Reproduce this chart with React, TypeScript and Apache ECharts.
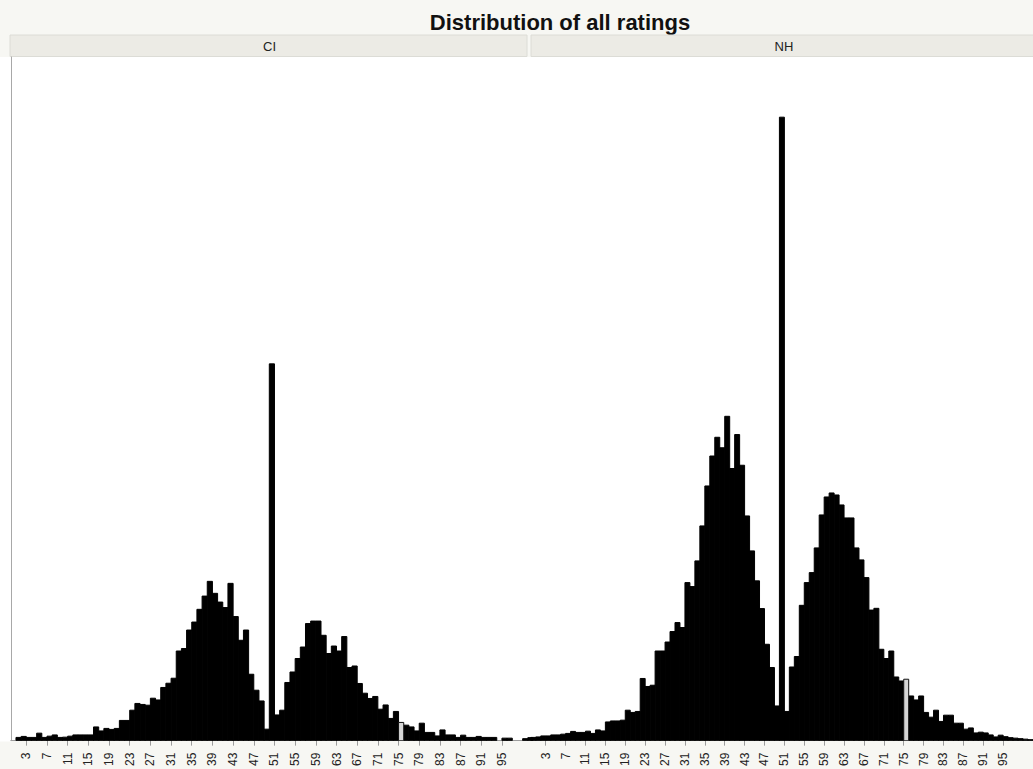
import React, { useEffect, useRef } from "react";
import * as echarts from "echarts";

const TITLE = "Distribution of all ratings";
const PANELS = ["CI", "NH"];
const TICK_LABELS = [3, 7, 11, 15, 19, 23, 27, 31, 35, 39, 43, 47, 51, 55, 59, 63, 67, 71, 75, 79, 83, 87, 91, 95];
const HIGHLIGHT_RATING = 75;

// counts per rating bin [r, r+1), index = rating 0..100
const CI_COUNTS = [
  0, 13, 17, 13, 13, 30, 13, 18, 23, 13,
  14, 18, 23, 23, 23, 23, 55, 39, 49, 45,
  49, 81, 81, 122, 149, 145, 142, 170, 163, 213,
  230, 250, 359, 369, 443, 475, 526, 579, 638, 590,
  555, 533, 630, 497, 402, 443, 266, 202, 159, 46,
  1509, 103, 122, 233, 275, 329, 375, 469, 479, 479,
  422, 349, 379, 359, 417, 293, 299, 229, 190, 169,
  177, 126, 143, 89, 117, 73, 62, 55, 39, 70,
  33, 33, 19, 43, 23, 23, 13, 22, 13, 13,
  17, 13, 13, 13, 0, 10, 10, 0, 0, 8,
  12,
];

const NH_COUNTS = [
  13, 15, 19, 19, 23, 23, 26, 29, 37, 33,
  33, 38, 29, 43, 39, 75, 79, 79, 82, 122,
  113, 117, 249, 217, 222, 359, 359, 395, 437, 473,
  453, 633, 617, 720, 860, 1020, 1140, 1215, 1173, 1299,
  1090, 1226, 1103, 900, 760, 640, 529, 386, 293, 139,
  2497, 117, 295, 337, 542, 633, 673, 772, 904, 976,
  992, 984, 944, 892, 892, 772, 724, 653, 523, 530,
  366, 329, 359, 255, 239, 246, 179, 163, 179, 113,
  94, 122, 77, 102, 102, 70, 70, 46, 51, 31,
  34, 31, 23, 15, 22, 16, 12, 10, 8, 6,
  4,
];

const PANEL_COUNTS = [CI_COUNTS, NH_COUNTS];

export default function App() {
  const ref = useRef<HTMLDivElement>(null);

  useEffect(() => {
    document.body.style.margin = "0";
    if (!ref.current) return;
    const chart = echarts.init(ref.current, null, { renderer: "svg" });

    const unit = 5.17;
    const gridLefts = [10.8, 530.8];
    const xMax = 101;
    const yMax = 2738;

    const grids = gridLefts.map((left) => ({
      left,
      top: 57,
      width: unit * xMax,
      height: 684.5,
      show: true,
      backgroundColor: "#ffffff",
      borderWidth: 0,
      containLabel: false,
    }));

    const xAxes = PANELS.map((_, i) => ({
      type: "value",
      gridIndex: i,
      min: 0,
      max: xMax,
      axisLine: { show: true, lineStyle: { color: "#9c9c9c", width: 1 } },
      axisTick: { show: true, length: 5, customValues: TICK_LABELS, lineStyle: { color: "#9c9c9c" } },
      axisLabel: {
        customValues: TICK_LABELS,
        rotate: 90,
        fontSize: 12,
        fontFamily: "Liberation Sans",
        color: "#222",
        margin: 12,
      },
      splitLine: { show: false },
    }));

    const yAxes = PANELS.map((_, i) => ({
      type: "value",
      gridIndex: i,
      min: 0,
      max: yMax,
      axisLine: { show: i === 0, lineStyle: { color: "#a8a8a8" } },
      axisTick: { show: false },
      axisLabel: { show: false },
      splitLine: { show: false },
    }));

    const series = PANEL_COUNTS.map((counts, i) => ({
      type: "custom",
      xAxisIndex: i,
      yAxisIndex: i,
      clip: true,
      data: counts.map((c, r) => [r, c]),
      renderItem: (params: any, api: any) => {
        const r = api.value(0);
        const c = api.value(1);
        if (!c) return null;
        const p0 = api.coord([r, c]);
        const p1 = api.coord([r + 1, 0]);
        const hl = r === HIGHLIGHT_RATING;
        return {
          type: "rect",
          z2: hl ? 10 : 1,
          shape: { x: p0[0], y: p0[1], width: p1[0] - p0[0], height: p1[1] - p0[1] },
          style: hl
            ? { fill: "#d6d6d6", stroke: "#111", lineWidth: 1 }
            : { fill: "#000", stroke: "#000", lineWidth: 1 },
        };
      },
    }));

    const stripW = [517, 510];
    const stripX = [10, 531];

    chart.setOption({
      animation: false,
      backgroundColor: "#f7f7f3",
      grid: grids,
      xAxis: xAxes,
      yAxis: yAxes,
      series,
      graphic: [
        {
          type: "rect",
          shape: { x: 0, y: 57, width: 11, height: 684.5 },
          style: { fill: "#ffffff" },
        },
        {
          type: "text",
          x: 560,
          y: 22.5,
          style: {
            text: TITLE,
            fontSize: 22,
            fontWeight: "bold",
            fontFamily: "Liberation Sans",
            fill: "#111",
            align: "center",
            verticalAlign: "middle",
          },
        },
        ...PANELS.map((p, i) => ({
          type: "group",
          children: [
            {
              type: "rect",
              shape: { x: stripX[i], y: 35, width: stripW[i], height: 21.5 },
              style: { fill: "#ecebe5", stroke: "#dcdcd6", lineWidth: 1 },
            },
            {
              type: "text",
              x: stripX[i] + (i === 0 ? 259.5 : 253),
              y: 46,
              style: {
                text: p,
                fontSize: 13,
                fontFamily: "Liberation Sans",
                fill: "#222",
                align: "center",
                verticalAlign: "middle",
              },
            },
          ],
        })),
      ],
    });

    return () => chart.dispose();
  }, []);

  return <div ref={ref} style={{ width: 1033, height: 769 }} />;
}
